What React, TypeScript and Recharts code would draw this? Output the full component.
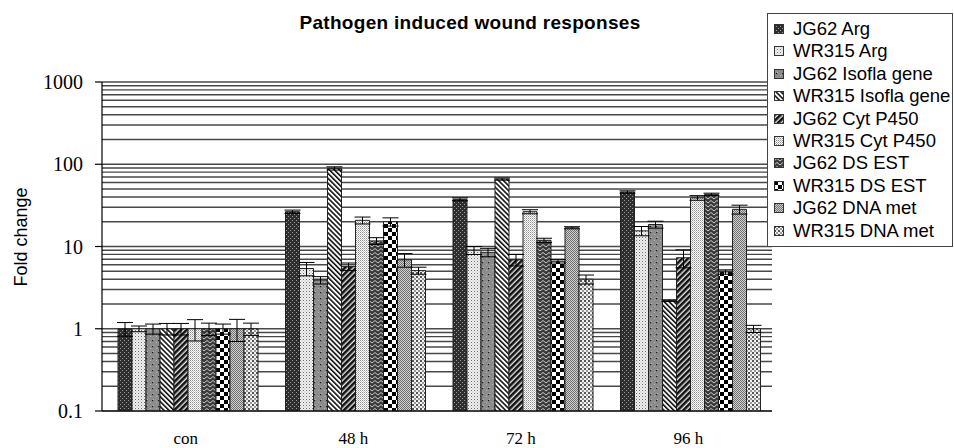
import React from 'react';
import { BarChart, Bar, XAxis, YAxis, CartesianGrid, ErrorBar } from 'recharts';

const categories = ['con', '48 h', '72 h', '96 h'];
const seriesNames = [
  'JG62 Arg', 'WR315 Arg', 'JG62 Isofla gene', 'WR315 Isofla gene', 'JG62 Cyt P450',
  'WR315 Cyt P450', 'JG62 DS EST', 'WR315 DS EST', 'JG62 DNA met', 'WR315 DNA met',
];

const jg62Arg = [1, 26.5, 37.5, 46];
const wr315Arg = [1, 5.4, 9.0, 15.5];
const jg62Isofla = [1, 3.9, 8.5, 18.5];
const wr315Isofla = [1, 89, 66, 2.2];
const jg62Cyt = [1, 5.7, 6.9, 7.3];
const wr315Cyt = [1, 20.8, 26.5, 39];
const jg62Ds = [1, 11.7, 11.9, 43];
const wr315Ds = [1, 20, 6.6, 4.9];
const jg62Dna = [1, 6.9, 16.9, 28.3];
const wr315Dna = [1, 5.1, 4.0, 1.0];

const jg62ArgErr = [0.19, 1.2, 1.5, 1.5];
const wr315ArgErr = [0.08, 1.0, 1.0, 2.0];
const jg62IsoflaErr = [0.14, 0.4, 1.0, 1.8];
const wr315IsoflaErr = [0.16, 4, 2, 0.05];
const jg62CytErr = [0.16, 0.6, 1.1, 1.8];
const wr315CytErr = [0.29, 2, 1.5, 2.5];
const jg62DsErr = [0.17, 1.1, 0.7, 1.5];
const wr315DsErr = [0.14, 2.3, 0.3, 0.3];
const jg62DnaErr = [0.3, 1.3, 0.5, 3.5];
const wr315DnaErr = [0.17, 0.5, 0.5, 0.1];

const seriesValues = [jg62Arg, wr315Arg, jg62Isofla, wr315Isofla, jg62Cyt, wr315Cyt, jg62Ds, wr315Ds, jg62Dna, wr315Dna];
const seriesErrors = [jg62ArgErr, wr315ArgErr, jg62IsoflaErr, wr315IsoflaErr, jg62CytErr, wr315CytErr, jg62DsErr, wr315DsErr, jg62DnaErr, wr315DnaErr];

const yTicks = [0.1, 1, 10, 100, 1000];
const yTickLabels = ['0.1', '1', '10', '100', '1000'];
const gridValues: number[] = [];
[0.1, 1, 10, 100].forEach((d) => {
  for (let k = 1; k <= 9; k++) gridValues.push(+(k * d).toPrecision(3));
});
gridValues.push(1000);

const data = categories.map((name, i) => {
  const row: Record<string, any> = { name };
  seriesValues.forEach((vals, s) => {
    row['s' + s] = vals[i];
    row['e' + s] = seriesErrors[s][i];
  });
  return row;
});

const Patterns = () => (
  <defs>
    <pattern id="p0" width={4} height={4} patternUnits="userSpaceOnUse">
      <rect width={4} height={4} fill="#2e2e2e" />
      <rect x={0} y={0} width={1} height={1} fill="#9a9a9a" />
      <rect x={2} y={2} width={1} height={1} fill="#9a9a9a" />
    </pattern>
    <pattern id="p1" width={3} height={3} patternUnits="userSpaceOnUse">
      <rect width={3} height={3} fill="#f0f0f0" />
      <rect x={0} y={0} width={1} height={1} fill="#6a6a6a" />
      <rect x={1.5} y={1.5} width={1} height={1} fill="#b0b0b0" />
    </pattern>
    <pattern id="p2" width={6} height={6} patternUnits="userSpaceOnUse">
      <rect width={6} height={6} fill="#8c8c8c" />
      <rect x={0} y={0} width={1} height={1} fill="#b4b4b4" />
      <rect x={3} y={3} width={1} height={1} fill="#b4b4b4" />
      <rect x={2} y={4} width={1.2} height={1.2} fill="#1a1a1a" />
    </pattern>
    <pattern id="p3" width={3.5} height={3.5} patternUnits="userSpaceOnUse" patternTransform="rotate(-45)">
      <rect width={3.5} height={3.5} fill="#ffffff" />
      <rect x={0} y={0} width={1.6} height={3.5} fill="#111" />
    </pattern>
    <pattern id="p4" width={4} height={4} patternUnits="userSpaceOnUse" patternTransform="rotate(45)">
      <rect width={4} height={4} fill="#e8e8e8" />
      <rect x={0} y={0} width={2.6} height={4} fill="#111" />
    </pattern>
    <pattern id="p5" width={2} height={2} patternUnits="userSpaceOnUse">
      <rect width={2} height={2} fill="#ffffff" />
      <rect x={0} y={0} width={1} height={1} fill="#8f8f8f" />
      <rect x={1} y={1} width={1} height={1} fill="#c0c0c0" />
    </pattern>
    <pattern id="p6" width={6} height={4} patternUnits="userSpaceOnUse">
      <rect width={6} height={4} fill="#3a3a3a" />
      <path d="M0 3 L3 0.5 L6 3" stroke="#c8c8c8" strokeWidth={1} fill="none" />
    </pattern>
    <pattern id="p7" width={8} height={8} patternUnits="userSpaceOnUse">
      <rect width={8} height={8} fill="#ffffff" />
      <rect x={0} y={0} width={4} height={4} fill="#000" />
      <rect x={4} y={4} width={4} height={4} fill="#000" />
    </pattern>
    <pattern id="p8" width={2} height={2} patternUnits="userSpaceOnUse">
      <rect width={2} height={2} fill="#cfcfcf" />
      <rect x={0} y={0} width={1} height={1} fill="#707070" />
      <rect x={1} y={1} width={1} height={1} fill="#707070" />
    </pattern>
    <pattern id="p9" width={4} height={4} patternUnits="userSpaceOnUse">
      <rect width={4} height={4} fill="#f0f0f0" />
      <rect x={0} y={0} width={2} height={2} fill="#555" />
      <rect x={2} y={2} width={2} height={2} fill="#9a9a9a" />
    </pattern>
  </defs>
);

export default function App() {
  return (
    <div style={{ position: 'absolute', left: 0, top: 0, width: 954, height: 448, background: '#fff' }}>
      <svg width={954} height={448} style={{ position: 'absolute', left: 0, top: 0, pointerEvents: 'none' }}>
        <Patterns />
      </svg>
      <BarChart
        width={954}
        height={448}
        data={data}
        margin={{ top: 82, right: 182, bottom: 0, left: 0 }}
        barCategoryGap={16}
        barGap={0}
      >
        <CartesianGrid
          vertical={false}
          yAxisId="grid"
          syncWithTicks
          stroke="#484848"
          strokeWidth={1.3}
        />
        <XAxis
          dataKey="name"
          tickLine={false}
          axisLine={{ stroke: '#000', strokeWidth: 1.2 }}
          height={37}
          tickMargin={15}
          tick={{ fontFamily: 'Liberation Serif', fontSize: 17, fill: '#000' }}
        />
        <YAxis
          yAxisId="grid"
          type="number"
          scale="log"
          domain={[0.1, 1000]}
          ticks={gridValues}
          interval={0}
          allowDataOverflow
          hide
        />
        <YAxis
          type="number"
          scale="log"
          domain={[0.1, 1000]}
          ticks={yTicks}
          interval={0}
          allowDataOverflow
          width={102}
          tickSize={7}
          tickMargin={12}
          axisLine={{ stroke: '#000', strokeWidth: 1.2 }}
          tickLine={{ stroke: '#000', strokeWidth: 1.2 }}
          tickFormatter={(v: number) => yTickLabels[yTicks.indexOf(v)] ?? String(v)}
          tick={{ fontFamily: 'Liberation Serif', fontSize: 20, fill: '#000' }}
        />
        {seriesNames.map((n, s) => (
          <Bar
            key={n}
            dataKey={'s' + s}
            name={n}
            fill={`url(#p${s})`}
            stroke="#222"
            strokeWidth={1}
            isAnimationActive={false}
          >
            <ErrorBar
              dataKey={'e' + s}
              width={8}
              stroke="#000"
              strokeWidth={1}
              direction="y"
              isAnimationActive={false}
            />
          </Bar>
        ))}
      </BarChart>
      <svg width={954} height={448} style={{ position: 'absolute', left: 0, top: 0, pointerEvents: 'none' }}>
        <text
          x={470}
          y={29}
          textAnchor="middle"
          fontFamily="Liberation Sans"
          fontWeight="bold"
          fontSize={19}
          letterSpacing={0.3}
          fill="#000"
        >
          Pathogen induced wound responses
        </text>
        <text
          x={21}
          y={237}
          transform="rotate(-90, 21, 237)"
          textAnchor="middle"
          dominantBaseline="central"
          fontFamily="Liberation Sans"
          fontSize={18}
          fill="#000"
        >
          Fold change
        </text>
      </svg>
      <div
        style={{
          position: 'absolute',
          left: 767,
          top: 13,
          width: 186,
          height: 234,
          border: '1.5px solid #444',
          background: '#fff',
          boxSizing: 'border-box',
        }}
      >
        {seriesNames.map((n, s) => (
          <div
            key={n}
            style={{
              position: 'absolute',
              left: 6,
              top: 4 + s * 22.4,
              height: 22,
              display: 'flex',
              alignItems: 'center',
              whiteSpace: 'nowrap',
            }}
          >
            <svg width={10} height={10} style={{ marginRight: 9 }}>
              <rect x={0.5} y={0.5} width={9} height={9} fill={`url(#p${s})`} stroke="#333" strokeWidth={1} />
            </svg>
            <span style={{ fontFamily: 'Liberation Sans', fontSize: 18.5, color: '#000', lineHeight: '22px' }}>{n}</span>
          </div>
        ))}
      </div>
    </div>
  );
}
